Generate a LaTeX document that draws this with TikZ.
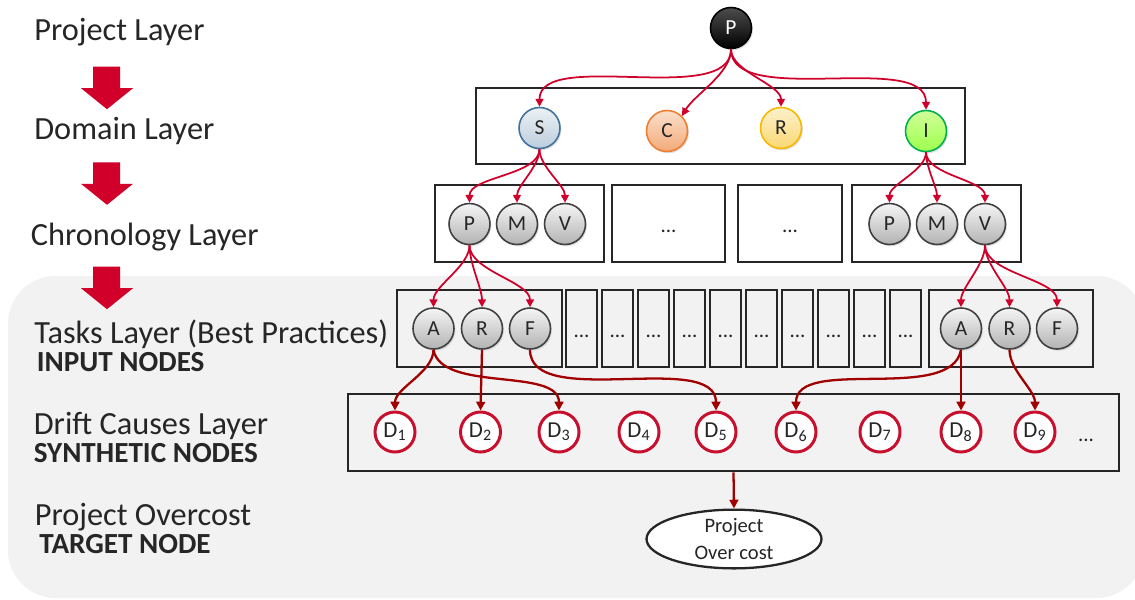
\documentclass[tikz,border=0pt]{standalone}
\usepackage{fontspec}
\setmainfont{Carlito}
\usetikzlibrary{arrows.meta,positioning,shapes.geometric,shadows}
\definecolor{dagred}{RGB}{208,0,42}
\definecolor{dagdark}{RGB}{160,0,0}
\definecolor{drim}{RGB}{200,16,46}
\definecolor{boxc}{RGB}{38,38,38}
\definecolor{txtc}{RGB}{38,38,38}
\definecolor{bggray}{RGB}{242,242,242}
\definecolor{sblue}{RGB}{65,113,156}
\definecolor{corange}{RGB}{237,125,49}
\definecolor{ryellow}{RGB}{245,184,0}
\definecolor{igreen}{RGB}{0,176,80}
\newcommand{\layerarrow}[1]{%
  \fill[dagred] (93,#1) -- (120,#1) -- (120,#1+21.5) -- (133,#1+21.5)
    -- (107,#1+42.5) -- (81,#1+21.5) -- (93,#1+21.5) -- cycle;}
\tikzset{
  lyr/.style={anchor=base west, inner sep=0pt, text depth=0pt, text=txtc, font=\fontsize{18.4}{21}\selectfont},
  lyrb/.style={anchor=base west, inner sep=0pt, text depth=0pt, text=txtc, font=\fontsize{16.6}{19}\selectfont\bfseries},
  lbox/.style={draw=boxc, line width=1.5pt, minimum height=1.54cm, inner sep=0pt},
  cnode/.style={circle, minimum size=0.82cm, inner sep=0pt, line width=0.9pt, text=txtc,
      font=\fontsize{12.2}{12}\selectfont,
      drop shadow={opacity=0.25, shadow xshift=0.8pt, shadow yshift=-1pt}},
  gnode/.style={cnode, draw=black!75, top color=black!4, bottom color=black!30},
  dnode/.style={circle, minimum size=0.8cm, inner sep=0pt, draw=drim, line width=1.7pt,
      fill=white, text=txtc, font=\fontsize{13}{13}\selectfont},
  dotlbl/.style={text=txtc, font=\fontsize{12}{12}\selectfont},
  con/.style={-{Triangle[length=4.5pt,width=4.5pt]}, dagred, line width=1pt, looseness=0.75},
  dcon/.style={-{Triangle[length=5pt,width=5pt]}, dagdark, line width=1.3pt, looseness=0.8},
}
\begin{document}
\begin{tikzpicture}[x=0.02cm, y=-0.02cm]
\useasboundingbox (0,0) rectangle (1135,599);
\fill[bggray, rounded corners=0.95cm] (8,276) rectangle (1144,598);
%---- layer names
\node[lyr] (lp) at (34,40.7) {Project Layer};
\node[lyr] (ld) at (34,139.3) {Domain Layer};
\node[lyr] (lc) at (30.5,245) {Chronology Layer};
\node[lyr] (lt) at (34,343) {Tasks Layer (Best Practices)};
\node[lyrb] (lti) at (36.5,371.5) {INPUT NODES};
\node[lyr] (ldc) at (33.5,434) {Drift Causes Layer};
\node[lyrb] (lsy) at (33.5,462) {SYNTHETIC NODES};
\node[lyr] (lpo) at (34.5,525) {Project Overcost};
\node[lyrb] (lta) at (39,553.3) {TARGET NODE};
\foreach \y in {66.7,162.3,266.7} \layerarrow{\y}
%---- boxes
\node[lbox, minimum width=9.78cm, minimum height=1.52cm] (dom) at (720.5,126) {};
\node[lbox, minimum width=3.38cm] (chr1) at (519.5,223.5) {};
\node[lbox, minimum width=2.26cm] (chr2) at (668.5,223.5) {};
\node[lbox, minimum width=2.08cm] (chr3) at (790,223.5) {};
\node[lbox, minimum width=3.38cm] (chr4) at (936.5,223.5) {};
\node[dotlbl] (cd2) at (668.5,231) {...};
\node[dotlbl] (cd3) at (790,231) {...};
\node[lbox, minimum width=3.3cm] (tsk1) at (479.5,328.5) {};
\foreach \i in {0,...,9}{
  \node[lbox, minimum width=0.62cm] (tm\i) at (581.5+36*\i,328.5) {};
  \node[dotlbl] (td\i) at (581.5+36*\i,336) {...};
}
\node[lbox, minimum width=3.28cm] (tsk2) at (1011,328.5) {};
\node[lbox, minimum width=15.42cm] (drift) at (733.5,432.5) {};
%---- project and domains
\node[cnode, draw=black, top color=black!70, bottom color=black, text=white] (proj) at (731,28) {P};
\node[cnode, draw=sblue, top color=sblue!10, bottom color=sblue!35] (dS) at (539.5,128) {S};
\node[cnode, draw=corange, top color=corange!25, bottom color=corange!65] (dC) at (667,131) {C};
\node[cnode, draw=ryellow, top color=ryellow!20, bottom color=ryellow!55] (dR) at (781,128) {R};
\node[cnode, draw=igreen, top color=green!45!yellow!40, bottom color=green!55!yellow!70] (dI) at (926,131) {I};
%---- chronology
\node[gnode] (cP1) at (469.5,224) {P};
\node[gnode] (cM1) at (517,224) {M};
\node[gnode] (cV1) at (565,224) {V};
\node[gnode] (cP2) at (889.5,224) {P};
\node[gnode] (cM2) at (937,224) {M};
\node[gnode] (cV2) at (985,224) {V};
%---- tasks
\node[gnode] (tA1) at (433.5,328.5) {A};
\node[gnode] (tR1) at (482,328.5) {R};
\node[gnode] (tF1) at (530,328.5) {F};
\node[gnode] (tA2) at (961,328.5) {A};
\node[gnode] (tR2) at (1009.5,328.5) {R};
\node[gnode] (tF2) at (1057,328.5) {F};
%---- drift causes
\foreach \n/\x in {1/395,2/480.5,3/559,4/639,5/716,6/796,7/880,8/961,9/1035}
  \node[dnode] (d\n) at (\x,432) {D\textsubscript{\n}};
\node[dotlbl] (dmore) at (1086,440) {...};
\node[ellipse, draw=boxc, line width=1.3pt, fill=white, minimum width=3.5cm, minimum height=1.16cm,
  inner sep=0pt, align=center, text=txtc, font=\fontsize{11.7}{15.5}\selectfont] (goal) at (734,539)
  {Project\\Over cost};
%---- connectors
\draw[con] (proj.south) to[out=-90,in=90] (dS.north);
\draw[con] (proj.south) to[out=-90,in=60] (dC.north east);
\draw[con] (proj.south) to[out=-90,in=90] (dR.north);
\draw[con] (proj.south) to[out=-90,in=90] (dI.north);
\foreach \t in {cP1,cM1,cV1} \draw[con] (dS.south) to[out=-90,in=90] (\t.north);
\foreach \t in {cP2,cM2,cV2} \draw[con] (dI.south) to[out=-90,in=90] (\t.north);
\foreach \t in {tA1,tR1,tF1} \draw[con] (cP1.south) to[out=-90,in=90] (\t.north);
\foreach \t in {tA2,tR2,tF2} \draw[con] (cV2.south) to[out=-90,in=90] (\t.north);
\draw[dcon] (tA1.south) to[out=-90,in=90] (d1.north);
\draw[dcon] (tA1.south) to[out=-80,in=90] (d3.north);
\draw[dcon] (tR1.south) -- (d2.north);
\draw[dcon] (tF1.south) to[out=-90,in=90] (d5.north);
\draw[dcon] (tA2.south) to[out=-100,in=90] (d6.north);
\draw[dcon] (tA2.south) -- (d8.north);
\draw[dcon] (tR2.south) to[out=-90,in=90] (d9.north);
\draw[dcon] (drift.south) -- (goal.north);
\end{tikzpicture}
\end{document}
